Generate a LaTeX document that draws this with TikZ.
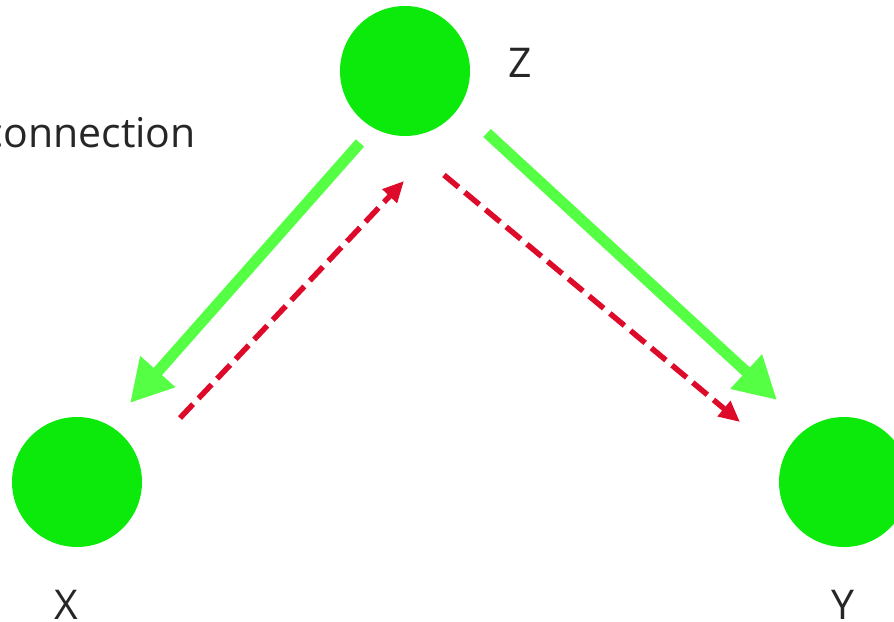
\documentclass[tikz,border=0pt]{standalone}
\usepackage{fontspec}
\setmainfont{Open Sans}
\usetikzlibrary{arrows.meta}
\definecolor{nodegreen}{HTML}{0BEA0B}
\definecolor{arrgreen}{HTML}{55FF44}
\definecolor{arrred}{HTML}{DD0A2A}
\begin{document}
\begin{tikzpicture}[x=1pt,y=-1pt,
  dot/.style={circle,fill=nodegreen,minimum size=130pt,inner sep=0pt},
  lbl/.style={font=\fontsize{41}{48}\selectfont,text=black!85,inner sep=0pt,anchor=base},
  garrow/.style={draw=arrgreen,line width=11pt,-{Triangle[length=42pt,width=44pt]}},
  rarrow/.style={draw=arrred,line width=5.5pt,dash pattern=on 19pt off 8pt,-{Triangle[length=21pt,width=19pt]}}]
\useasboundingbox (0,0) rectangle (894,621);
\clip (0,0) rectangle (894,621);
\node[dot] (Z) at (405,71) {};
\node[dot] (X) at (77,482) {};
\node[dot] (Y) at (844,482) {};
\node[lbl] (zl) at (520,77) {Z};
\node[lbl] (xl) at (66,619) {X};
\node[lbl] (yl) at (843,619) {Y};
\node[lbl,anchor=base east] (cl) at (196,147) {connection};
\coordinate (g1s) at (360,143);
\coordinate (g1e) at (130,403);
\coordinate (g2s) at (487,133);
\coordinate (g2e) at (777,400);
\coordinate (r1s) at (180,418);
\coordinate (r1e) at (404,181);
\coordinate (r2s) at (444,175);
\coordinate (r2e) at (740,422);
\draw[garrow] (g1s) -- (g1e);
\draw[garrow] (g2s) -- (g2e);
\draw[rarrow] (r1s) -- (r1e);
\draw[rarrow] (r2s) -- (r2e);
\end{tikzpicture}
\end{document}
